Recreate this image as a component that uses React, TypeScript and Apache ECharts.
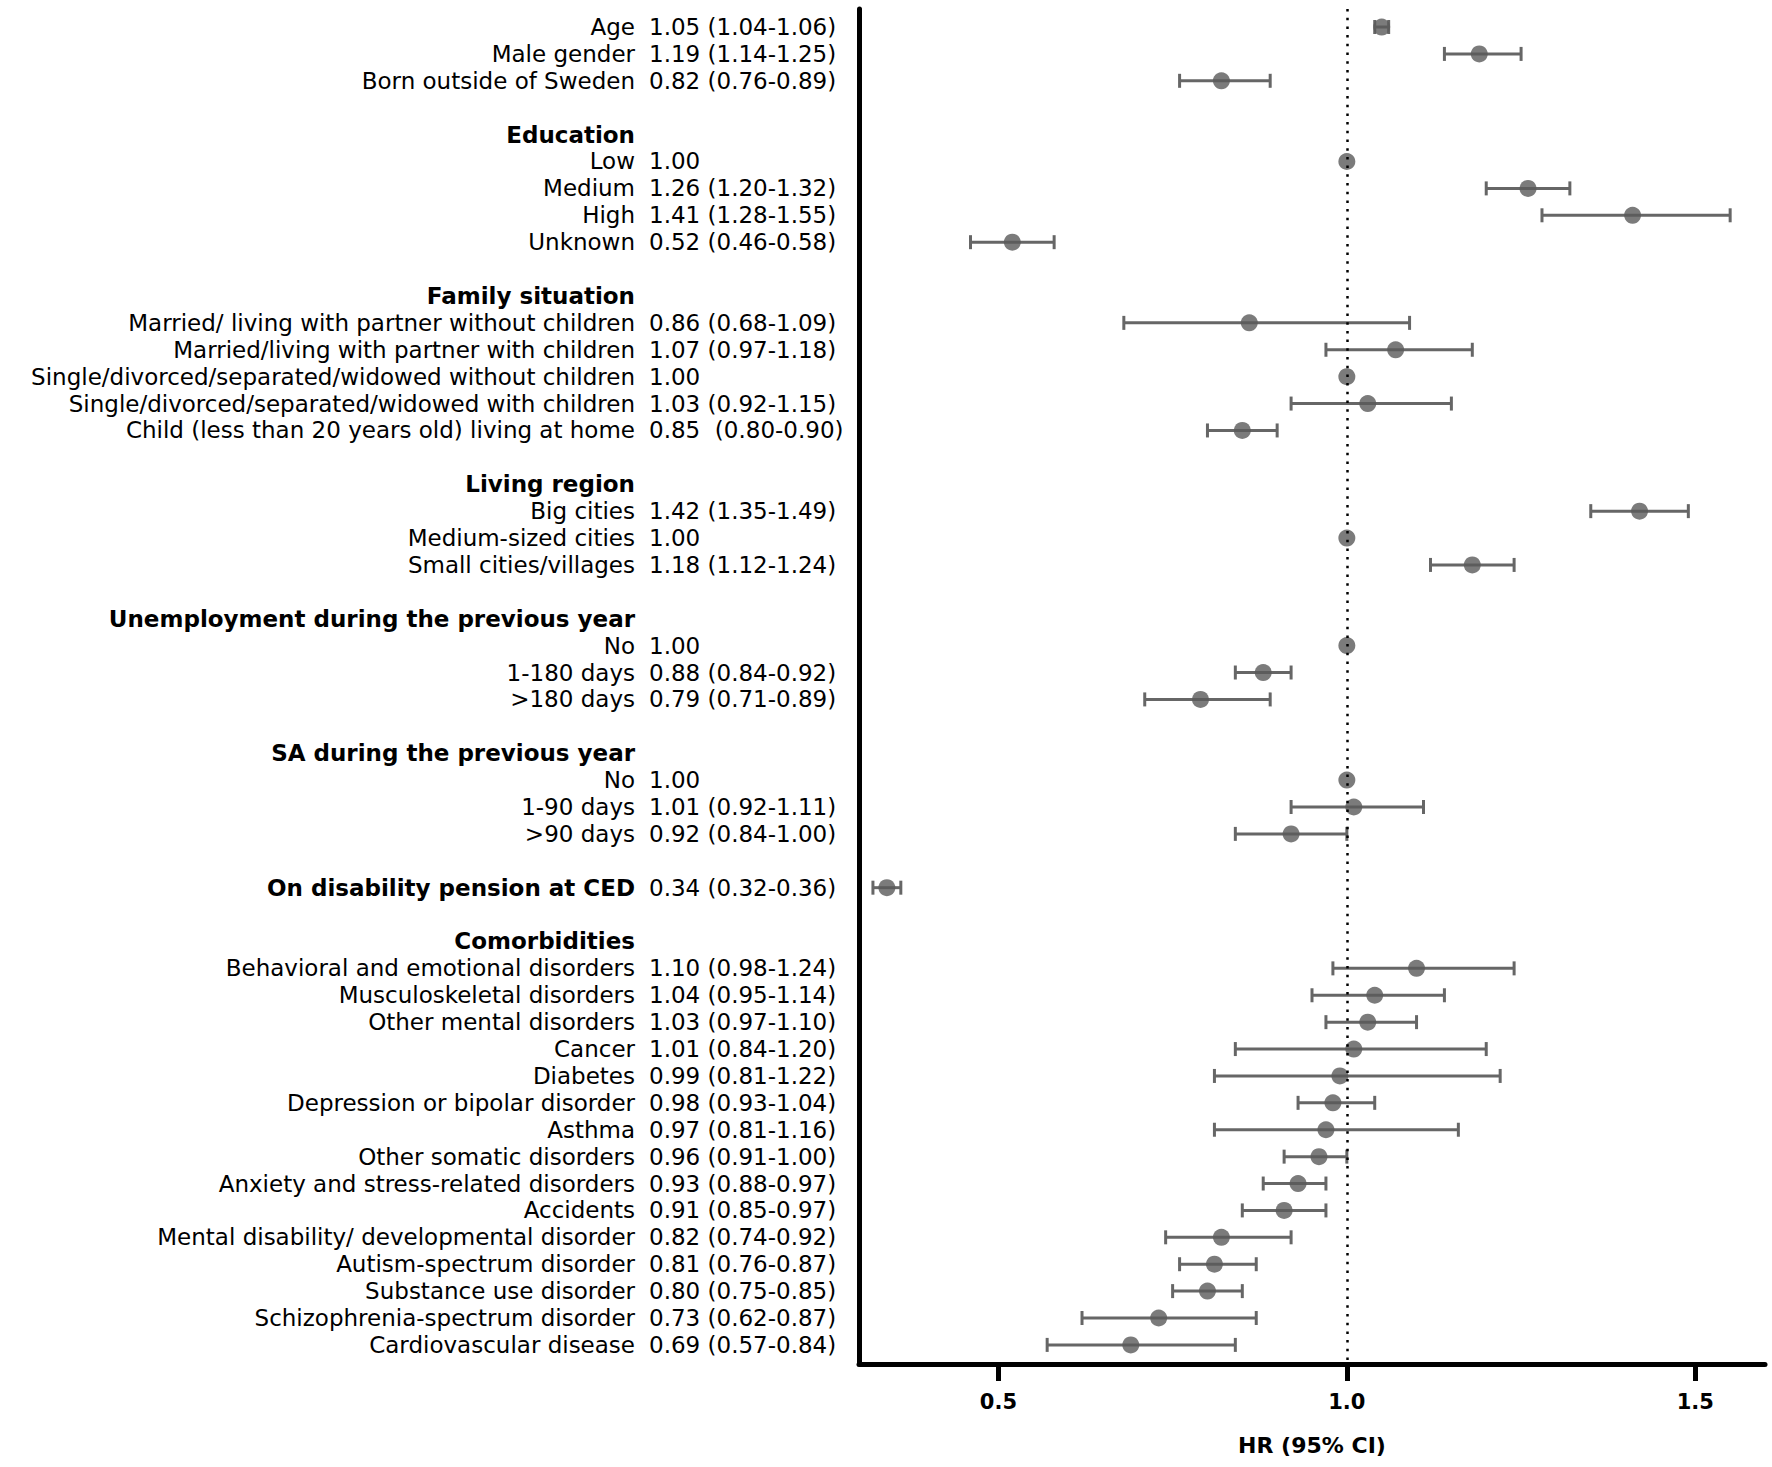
import React, { useEffect, useRef } from "react";
import * as echarts from "echarts";

// Row labels (one slot per printed line; "" = spacer line)
const rowLabels: string[] = [
  "Age",
  "Male gender",
  "Born outside of Sweden",
  "",
  "Education",
  "Low",
  "Medium",
  "High",
  "Unknown",
  "",
  "Family situation",
  "Married/ living with partner without children",
  "Married/living with partner with children",
  "Single/divorced/separated/widowed without children",
  "Single/divorced/separated/widowed with children",
  "Child (less than 20 years old) living at home",
  "",
  "Living region",
  "Big cities",
  "Medium-sized cities",
  "Small cities/villages",
  "",
  "Unemployment during the previous year",
  "No",
  "1-180 days",
  ">180 days",
  "",
  "SA during the previous year",
  "No",
  "1-90 days",
  ">90 days",
  "",
  "On disability pension at CED",
  "",
  "Comorbidities",
  "Behavioral and emotional disorders",
  "Musculoskeletal disorders",
  "Other mental disorders",
  "Cancer",
  "Diabetes",
  "Depression or bipolar disorder",
  "Asthma",
  "Other somatic disorders",
  "Anxiety and stress-related disorders",
  "Accidents",
  "Mental disability/ developmental disorder",
  "Autism-spectrum disorder",
  "Substance use disorder",
  "Schizophrenia-spectrum disorder",
  "Cardiovascular disease",
];

const headerRows: number[] = [4, 10, 17, 22, 27, 32, 34];

const hrText: string[] = [
  "1.05 (1.04-1.06)",
  "1.19 (1.14-1.25)",
  "0.82 (0.76-0.89)",
  "",
  "",
  "1.00",
  "1.26 (1.20-1.32)",
  "1.41 (1.28-1.55)",
  "0.52 (0.46-0.58)",
  "",
  "",
  "0.86 (0.68-1.09)",
  "1.07 (0.97-1.18)",
  "1.00",
  "1.03 (0.92-1.15)",
  "0.85  (0.80-0.90)",
  "",
  "",
  "1.42 (1.35-1.49)",
  "1.00",
  "1.18 (1.12-1.24)",
  "",
  "",
  "1.00",
  "0.88 (0.84-0.92)",
  "0.79 (0.71-0.89)",
  "",
  "",
  "1.00",
  "1.01 (0.92-1.11)",
  "0.92 (0.84-1.00)",
  "",
  "0.34 (0.32-0.36)",
  "",
  "",
  "1.10 (0.98-1.24)",
  "1.04 (0.95-1.14)",
  "1.03 (0.97-1.10)",
  "1.01 (0.84-1.20)",
  "0.99 (0.81-1.22)",
  "0.98 (0.93-1.04)",
  "0.97 (0.81-1.16)",
  "0.96 (0.91-1.00)",
  "0.93 (0.88-0.97)",
  "0.91 (0.85-0.97)",
  "0.82 (0.74-0.92)",
  "0.81 (0.76-0.87)",
  "0.80 (0.75-0.85)",
  "0.73 (0.62-0.87)",
  "0.69 (0.57-0.84)",
];

const hrValues: (number | null)[] = [
  1.05, 1.19, 0.82, null,
  null, 1.0, 1.26, 1.41, 0.52, null,
  null, 0.86, 1.07, 1.0, 1.03, 0.85, null,
  null, 1.42, 1.0, 1.18, null,
  null, 1.0, 0.88, 0.79, null,
  null, 1.0, 1.01, 0.92, null,
  0.34, null,
  null, 1.1, 1.04, 1.03, 1.01, 0.99, 0.98, 0.97, 0.96, 0.93, 0.91, 0.82, 0.81, 0.8, 0.73, 0.69,
];

const ciLower: (number | null)[] = [
  1.04, 1.14, 0.76, null,
  null, null, 1.2, 1.28, 0.46, null,
  null, 0.68, 0.97, null, 0.92, 0.8, null,
  null, 1.35, null, 1.12, null,
  null, null, 0.84, 0.71, null,
  null, null, 0.92, 0.84, null,
  0.32, null,
  null, 0.98, 0.95, 0.97, 0.84, 0.81, 0.93, 0.81, 0.91, 0.88, 0.85, 0.74, 0.76, 0.75, 0.62, 0.57,
];

const ciUpper: (number | null)[] = [
  1.06, 1.25, 0.89, null,
  null, null, 1.32, 1.55, 0.58, null,
  null, 1.09, 1.18, null, 1.15, 0.9, null,
  null, 1.49, null, 1.24, null,
  null, null, 0.92, 0.89, null,
  null, null, 1.11, 1.0, null,
  0.36, null,
  null, 1.24, 1.14, 1.1, 1.2, 1.22, 1.04, 1.16, 1.0, 0.97, 0.97, 0.92, 0.87, 0.85, 0.87, 0.84,
];

const xTicks: number[] = [0.5, 1.0, 1.5];
const xTitle = "HR (95% CI)";

const FONT = "DejaVu Sans";
const FS = 23;

export default function App() {
  const ref = useRef<HTMLDivElement>(null);

  useEffect(() => {
    if (!ref.current) return;
    const chart = echarts.init(ref.current, null, { renderer: "svg" });

    const slots = rowLabels.map((_, i) => i);
    const scatterData: number[][] = [];
    const errData: number[][] = [];
    hrValues.forEach((v, i) => {
      if (v !== null) scatterData.push([v, i]);
      const lo = ciLower[i];
      const hi = ciUpper[i];
      if (lo !== null && hi !== null) errData.push([lo, hi, i]);
    });

    const yBase: any = {
      type: "value",
      min: -0.67,
      max: 49.71,
      inverse: true,
      splitLine: { show: false },
      axisTick: { show: false },
    };

    chart.setOption({
      animation: false,
      backgroundColor: "#ffffff",
      textStyle: { fontFamily: FONT },
      grid: { left: 859, right: 7, top: 9, bottom: 103, containLabel: false },
      xAxis: {
        type: "value",
        min: 0.3,
        max: 1.6,
        splitLine: { show: false },
        axisLine: { show: true, onZero: false, lineStyle: { color: "#000", width: 5 } },
        axisTick: {
          show: true,
          customValues: xTicks,
          length: 17,
          inside: false,
          lineStyle: { color: "#000", width: 5 },
        },
        axisLabel: {
          customValues: xTicks,
          formatter: (v: number) => v.toFixed(1),
          margin: 27,
          color: "#000",
          fontWeight: "bold",
          fontSize: 21,
          fontFamily: FONT,
        },
        name: xTitle,
        nameLocation: "middle",
        nameGap: 70,
        nameTextStyle: { color: "#000", fontWeight: "bold", fontSize: 22, fontFamily: FONT },
      },
      yAxis: [
        {
          ...yBase,
          position: "left",
          axisLine: { show: true, onZero: false, lineStyle: { color: "#000", width: 5 } },
          axisLabel: {
            customValues: slots,
            margin: 224,
            color: "#000",
            fontSize: FS,
            fontFamily: FONT,
            formatter: (v: number) => {
              const i = Math.round(v);
              const t = rowLabels[i] || "";
              if (!t) return "";
              return headerRows.includes(i) ? `{b|${t}}` : t;
            },
            rich: {
              b: { fontWeight: "bold", fontSize: FS, fontFamily: FONT, color: "#000" },
            },
          },
        },
        {
          ...yBase,
          position: "left",
          axisLine: { show: false },
          axisLabel: {
            customValues: slots,
            margin: 210,
            align: "left",
            color: "#000",
            fontSize: FS,
            fontFamily: FONT,
            formatter: (v: number) => hrText[Math.round(v)] || "",
          },
        },
      ],
      series: [
        {
          type: "custom",
          xAxisIndex: 0,
          yAxisIndex: 0,
          data: errData,
          z: 2,
          renderItem: (params: any, api: any) => {
            const y = api.value(2);
            const p1 = api.coord([api.value(0), y]);
            const p2 = api.coord([api.value(1), y]);
            const cap = 7;
            const style = { stroke: "#666666", lineWidth: 3 };
            return {
              type: "group",
              children: [
                { type: "line", shape: { x1: p1[0], y1: p1[1], x2: p2[0], y2: p2[1] }, style },
                { type: "line", shape: { x1: p1[0], y1: p1[1] - cap, x2: p1[0], y2: p1[1] + cap }, style },
                { type: "line", shape: { x1: p2[0], y1: p2[1] - cap, x2: p2[0], y2: p2[1] + cap }, style },
              ],
            };
          },
        },
        {
          type: "scatter",
          xAxisIndex: 0,
          yAxisIndex: 0,
          data: scatterData,
          symbol: "circle",
          symbolSize: 17,
          z: 3,
          itemStyle: { color: "#5a5a5a" },
          markLine: {
            silent: true,
            symbol: "none",
            label: { show: false },
            lineStyle: { color: "#000", width: 2.5, type: [2.5, 6.2] },
            data: [{ xAxis: 1.0 }],
          },
        },
      ],
    });

    return () => chart.dispose();
  }, []);

  return (
    <div
      ref={ref}
      style={{ position: "absolute", left: 0, top: 0, width: 1772, height: 1467 }}
    />
  );
}
